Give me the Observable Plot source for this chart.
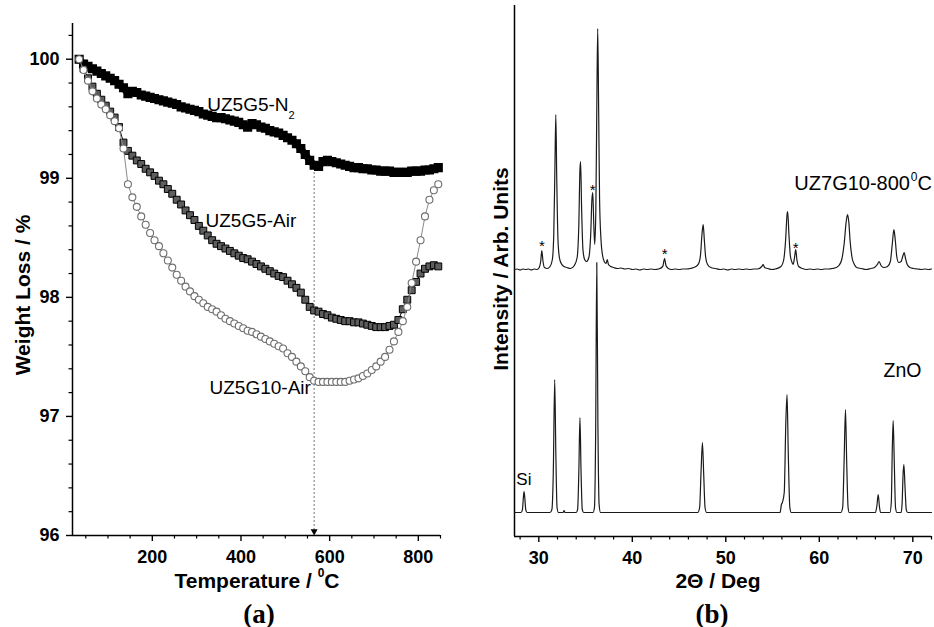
<!DOCTYPE html>
<html>
<head>
<meta charset="utf-8">
<script src="https://cdn.jsdelivr.net/npm/d3@7"></script>
<script src="https://cdn.jsdelivr.net/npm/@observablehq/plot@0.6"></script>
<style>
  body { margin: 0; background: white; }
  #wrap { position: relative; width: 934px; height: 627px; background: white; overflow: hidden; }
  .panel { position: absolute; top: 0; }
  .lab { position: absolute; font-family: 'Liberation Sans', Arial, sans-serif; font-weight: bold; font-size: 21px; color: black; white-space: nowrap; transform: translate(-50%, -50%); line-height: 1; }
  .rot { transform: translate(-50%, -50%) rotate(-90deg); }
  .lab sup { font-size: 12px; position: relative; top: -3px; vertical-align: top; }
  .cap { position: absolute; font-family: 'Liberation Serif', 'Times New Roman', serif; font-weight: bold; font-size: 27px; transform: translate(-50%, -50%); line-height: 1; }
</style>
</head>
<body>
<div id="wrap">
  <div id="pa" class="panel" style="left:0"></div>
  <div id="pb" class="panel" style="left:467px"></div>
  <div class="lab rot" style="left:22px; top:295px">Weight Loss / %</div>
  <div class="lab" style="left:257px; top:580px">Temperature / <sup>0</sup>C</div>
  <div class="cap" style="left:259px; top:614px">(a)</div>
  <div class="lab rot" style="left:500px; top:269px">Intensity / Arb. Units</div>
  <div class="lab" style="left:718px; top:580px">2&Theta; / Deg</div>
  <div class="cap" style="left:712px; top:614px">(b)</div>
</div>
<script>
// ---------- Panel (a): TGA ----------
const temps = [
  35, 45, 55, 65, 75, 85, 95, 105, 115, 125,
  135, 145, 155, 165, 175, 185, 195, 205, 215, 225,
  235, 245, 255, 265, 275, 285, 295, 305, 315, 325,
  335, 345, 355, 365, 375, 385, 395, 405, 415, 425,
  435, 445, 455, 465, 475, 485, 495, 505, 515, 525,
  535, 545, 555, 565, 575, 585, 595, 605, 615, 625,
  635, 645, 655, 665, 675, 685, 695, 705, 715, 725,
  735, 745, 755, 765, 775, 785, 795, 805, 815, 825,
  835, 845
];
const weightN2 = [
  100.00, 99.96, 99.94, 99.92, 99.90, 99.88, 99.86, 99.84, 99.82, 99.79,
  99.76, 99.71, 99.73, 99.72, 99.70, 99.69, 99.68, 99.67, 99.66, 99.65,
  99.64, 99.63, 99.62, 99.60, 99.59, 99.58, 99.57, 99.56, 99.54, 99.53,
  99.52, 99.51, 99.51, 99.50, 99.49, 99.48, 99.47, 99.45, 99.43, 99.46,
  99.45, 99.43, 99.42, 99.40, 99.39, 99.38, 99.36, 99.34, 99.32, 99.29,
  99.25, 99.20, 99.15, 99.11, 99.10, 99.14, 99.15, 99.14, 99.13, 99.12,
  99.11, 99.10, 99.09, 99.09, 99.08, 99.08, 99.07, 99.07, 99.06, 99.06,
  99.06, 99.05, 99.05, 99.05, 99.05, 99.06, 99.06, 99.06, 99.07, 99.07,
  99.08, 99.09
];
const weightG5Air = [
  100.00, 99.92, 99.84, 99.77, 99.71, 99.66, 99.61, 99.56, 99.51, 99.43,
  99.30, 99.23, 99.19, 99.15, 99.12, 99.08, 99.05, 99.02, 98.98, 98.95,
  98.91, 98.87, 98.82, 98.78, 98.73, 98.69, 98.65, 98.60, 98.56, 98.52,
  98.48, 98.45, 98.43, 98.41, 98.39, 98.37, 98.35, 98.33, 98.32, 98.30,
  98.28, 98.26, 98.24, 98.22, 98.20, 98.18, 98.17, 98.14, 98.11, 98.08,
  98.04, 97.98, 97.92, 97.89, 97.88, 97.86, 97.85, 97.83, 97.82, 97.81,
  97.80, 97.80, 97.79, 97.79, 97.78, 97.77, 97.76, 97.75, 97.75, 97.75,
  97.76, 97.77, 97.81, 97.90, 97.98, 98.06, 98.13, 98.20, 98.24, 98.26,
  98.27, 98.26
];
const weightG10Air = [
  100.00, 99.91, 99.82, 99.73, 99.67, 99.62, 99.58, 99.53, 99.48, 99.42,
  99.25, 98.95, 98.84, 98.76, 98.68, 98.61, 98.54, 98.48, 98.43, 98.37,
  98.31, 98.25, 98.19, 98.14, 98.09, 98.05, 98.01, 97.98, 97.95, 97.92,
  97.90, 97.88, 97.85, 97.82, 97.80, 97.78, 97.76, 97.74, 97.72, 97.71,
  97.69, 97.67, 97.65, 97.63, 97.61, 97.59, 97.57, 97.53, 97.50, 97.46,
  97.42, 97.38, 97.33, 97.30, 97.29, 97.29, 97.29, 97.29, 97.29, 97.29,
  97.29, 97.30, 97.31, 97.32, 97.34, 97.36, 97.39, 97.42, 97.46, 97.50,
  97.56, 97.63, 97.71, 97.80, 97.92, 98.12, 98.30, 98.48, 98.68, 98.82,
  98.90, 98.95
];
const tempMajorTicks = [200, 400, 600, 800];
const tempMinorTicks = [50, 100, 150, 250, 300, 350, 450, 500, 550, 650, 700, 750, 850];
const weightMajorTicks = [96, 97, 98, 99, 100];
const weightMinorTicks = [96.2, 96.4, 96.6, 96.8, 97.2, 97.4, 97.6, 97.8, 98.2, 98.4, 98.6, 98.8, 99.2, 99.4, 99.6, 99.8, 100.2];
const dropTemp = [565];          // dotted marker temperature
const dropFrom = [99.08];        // starts at the N2 curve
const seriesLabelsA = ["UZ5G5-N", "UZ5G5-Air", "UZ5G10-Air"];
const seriesLabelT = [324, 320, 329];
const seriesLabelW = [99.62, 98.64, 97.24];

const n2 = temps.map((t, i) => ({t, w: weightN2[i]}));
const g5 = temps.map((t, i) => ({t, w: weightG5Air[i]}));
const g10 = temps.map((t, i) => ({t, w: weightG10Air[i]}));
const labA = seriesLabelsA.map((s, i) => ({t: seriesLabelT[i], w: seriesLabelW[i], s}));

const FONT = "'Liberation Sans', Arial, sans-serif";

const plotA = Plot.plot({
  width: 467, height: 627,
  marginLeft: 72, marginRight: 27, marginTop: 23, marginBottom: 92,
  x: {domain: [20, 850], axis: null},
  y: {domain: [96, 100.3], axis: null},
  style: {fontFamily: FONT, fontSize: "18px", fontWeight: "bold", color: "black", background: "transparent", overflow: "visible"},
  marks: [
    Plot.axisY(weightMajorTicks, {anchor: "left", tickSize: 6, tickPadding: 7, tickFormat: d => d, label: null, fontSize: 18, fontWeight: "bold", strokeWidth: 1.4}),
    Plot.axisY(weightMinorTicks, {anchor: "left", tickSize: 3.5, tickFormat: () => "", label: null, strokeWidth: 1.2}),
    Plot.axisX(tempMajorTicks, {anchor: "bottom", tickSize: 6, tickPadding: 9, tickFormat: d => d, label: null, fontSize: 18, fontWeight: "bold", strokeWidth: 1.4}),
    Plot.axisX(tempMinorTicks, {anchor: "bottom", tickSize: 3.5, tickFormat: () => "", label: null, strokeWidth: 1.2}),
    Plot.ruleX([20], {stroke: "black", strokeWidth: 1.5}),
    Plot.ruleY([96], {stroke: "black", strokeWidth: 1.5}),
    Plot.ruleX(dropTemp, {x: d => d, y1: (d, i) => dropFrom[i], y2: 96, stroke: "#444", strokeWidth: 1, strokeDasharray: "1.5,2.5"}),
    Plot.dot(dropTemp, {x: d => d, y: () => 96.035, symbol: "triangle", rotate: 180, r: 2.6, fill: "black", stroke: "none"}),
    Plot.line(n2, {x: "t", y: "w", stroke: "black", strokeWidth: 7}),
    Plot.dot(n2, {x: "t", y: "w", symbol: "square", r: 4.3, fill: "black", stroke: "black"}),
    Plot.line(g5, {x: "t", y: "w", stroke: "black", strokeWidth: 1}),
    Plot.dot(g5, {x: "t", y: "w", symbol: "square", r: 3.9, fill: "#5e5e5e", stroke: "black", strokeWidth: 1}),
    Plot.line(g10, {x: "t", y: "w", stroke: "#8a8a8a", strokeWidth: 1}),
    Plot.dot(g10, {x: "t", y: "w", symbol: "circle", r: 3.5, fill: "white", stroke: "#6e6e6e", strokeWidth: 1.1}),
    Plot.text(labA, {x: "t", y: "w", text: "s", textAnchor: "start", fontSize: 19, fontWeight: "normal", fill: "black"}),
    Plot.text(["2"], {x: () => 507, y: () => 99.53, text: d => d, textAnchor: "start", fontSize: 11, fontWeight: "normal", fill: "black"})
  ]
});
document.getElementById("pa").appendChild(plotA);

// ---------- Panel (b): XRD ----------
const znoScan = [
  [27.4,0],[28.1,0],[28.25,3],[28.35,15],[28.42,21],[28.5,15],[28.6,3],[28.75,0],
  [31.2,0],[31.4,3],[31.55,40],[31.7,133],[31.82,60],[31.95,5],[32.1,0],
  [32.6,0],[32.7,2],[32.8,0],
  [34.0,0],[34.15,3],[34.28,40],[34.4,95],[34.52,40],[34.65,3],[34.8,0],
  [35.8,0],[35.95,5],[36.08,80],[36.2,250],[36.32,90],[36.45,8],[36.6,0],
  [47.0,0],[47.2,5],[47.35,40],[47.5,70],[47.63,40],[47.78,5],[47.95,0],
  [55.8,0],[55.95,8],[56.05,10],[56.25,20],[56.42,90],[56.55,118],[56.68,60],[56.85,5],[57.0,0],
  [62.3,0],[62.5,5],[62.65,50],[62.8,103],[62.93,50],[63.08,5],[63.2,0],
  [66.0,0],[66.15,6],[66.3,18],[66.43,6],[66.55,0],
  [67.55,0],[67.7,10],[67.8,60],[67.9,92],[68.02,50],[68.15,5],[68.3,0],
  [68.75,0],[68.85,8],[68.97,40],[69.05,48],[69.17,25],[69.3,3],[69.45,0],
  [72.0,0]
];
const uzScan = [
  [27.4,0],[27.7,0.5],[28.0,-0.5],[28.3,0.5],[28.6,0],[28.9,0.5],[29.2,-0.5],[29.5,0.5],[29.8,0],
  [30.05,2],[30.2,8],[30.32,19],[30.45,8],[30.6,2],[30.9,1],
  [31.2,3],[31.45,10],[31.6,35],[31.72,100],[31.82,155],[31.92,90],[32.05,30],[32.2,12],[32.4,6],[32.7,3],[33.0,2],[33.4,1],
  [33.8,4],[34.1,12],[34.28,45],[34.4,100],[34.47,108],[34.58,60],[34.72,20],[34.9,10],[35.1,8],
  [35.35,12],[35.55,35],[35.68,70],[35.77,77],[35.88,45],[35.98,25],
  [36.1,60],[36.22,180],[36.3,241],[36.4,160],[36.5,70],[36.65,30],[36.8,15],[37.0,8],[37.2,6],[37.32,10],[37.45,5],[37.7,3],[38.0,2],
  [38.4,1],[38.8,1.5],[39.2,0.5],[39.6,1],[40.0,0],[40.4,0.5],[40.8,-0.5],[41.2,0.5],[41.6,0],[42.0,0.5],[42.4,0],[42.8,0.5],
  [43.25,3],[43.45,11],[43.6,4],[43.85,1],[44.2,0],[44.6,0.5],[45.0,0],[45.4,0.5],[45.8,0.5],[46.2,1],
  [46.8,3],[47.1,6],[47.3,15],[47.45,35],[47.58,45],[47.7,30],[47.85,12],[48.05,5],[48.4,2],[48.9,1],
  [49.4,0],[49.8,0.5],[50.2,-0.5],[50.6,0.5],[51.0,0],[51.4,0.5],[51.8,0],[52.2,0.5],[52.6,0],[53.0,0.5],[53.4,0.5],
  [53.85,3],[54.0,5],[54.15,2],[54.5,1],[54.9,0],[55.3,0.5],
  [55.9,3],[56.2,10],[56.4,30],[56.55,55],[56.62,58],[56.75,35],[56.9,14],[57.05,8],[57.2,5],[57.35,12],[57.48,20],[57.6,10],[57.8,3],
  [58.2,1],[58.6,0],[59.0,0.5],[59.4,0],[59.8,0.5],[60.2,0],[60.6,0.5],[61.0,0.5],[61.4,1],[61.8,2],
  [62.1,4],[62.4,10],[62.65,25],[62.88,48],[63.02,55],[63.15,48],[63.3,28],[63.5,12],[63.75,5],[64.0,2],[64.5,1],
  [65.0,0],[65.5,1],[65.9,2],[66.2,5],[66.4,8],[66.6,4],[66.9,2],
  [67.3,3],[67.6,8],[67.8,25],[67.98,40],[68.12,30],[68.3,12],[68.5,7],[68.75,8],[68.95,14],[69.08,17],[69.2,12],[69.4,5],[69.7,2],
  [70.1,1],[70.5,0.5],[70.9,0],[71.3,0.5],[71.7,0],[72.0,0.5]
];
const angleMajorTicks = [30, 40, 50, 60, 70];
const angleMinorTicks = [28, 32, 34, 36, 38, 42, 44, 46, 48, 52, 54, 56, 58, 62, 64, 66, 68, 72];
const starAngles = [30.32, 35.77, 43.45, 57.48];
const starHeights = [294, 350, 286, 292];
const patternLabels = ["ZnO", "Si"];
const patternLabelA = [66.87, 27.6];
const patternLabelI = [166, 57];
const patternLabelSize = [19.5, 17];
const sampleLabel = ["UZ7G10-800"];   // followed by superscript 0 and "C"

const ZNO_BASE = 24, UZ_BASE = 267;
const zno = znoScan.map(([a, i]) => ({a, i: i + ZNO_BASE}));
const uz = uzScan.map(([a, i]) => ({a, i: i + UZ_BASE}));
const stars = starAngles.map((a, k) => ({a, i: starHeights[k]}));
const labB = patternLabels.map((s, k) => ({a: patternLabelA[k], i: patternLabelI[k], s, f: patternLabelSize[k]}));

const plotB = Plot.plot({
  width: 467, height: 627,
  marginLeft: 47, marginRight: 3, marginTop: 5, marginBottom: 91,
  x: {domain: [27.4, 72.0], axis: null},
  y: {domain: [0, 531], axis: null},
  style: {fontFamily: FONT, fontSize: "18px", fontWeight: "bold", color: "black", background: "transparent", overflow: "visible"},
  marks: [
    Plot.axisX(angleMajorTicks, {anchor: "bottom", tickSize: 6, tickPadding: 9, tickFormat: d => d, label: null, fontSize: 18, fontWeight: "bold", strokeWidth: 1.4}),
    Plot.axisX(angleMinorTicks, {anchor: "bottom", tickSize: 3.5, tickFormat: () => "", label: null, strokeWidth: 1.2}),
    Plot.ruleX([27.4], {stroke: "black", strokeWidth: 1.5}),
    Plot.ruleY([0], {stroke: "black", strokeWidth: 1.5}),
    Plot.line(zno, {x: "a", y: "i", curve: "monotone-x", stroke: "#1a1a1a", strokeWidth: 1.2}),
    Plot.line(uz, {x: "a", y: "i", curve: "monotone-x", stroke: "#1a1a1a", strokeWidth: 1.2}),
    Plot.text(stars, {x: "a", y: "i", text: () => "*", fontSize: 15, fontWeight: "normal", dy: 4, fill: "black"}),
    Plot.text(labB, {x: "a", y: "i", text: "s", fontSize: "f", textAnchor: "start", fontWeight: "normal", fill: "black"}),
    Plot.text(sampleLabel, {x: () => 72.05, y: () => 353, text: d => d, textAnchor: "end", dx: -22, fontSize: 20, fontWeight: "normal", fill: "black"}),
    Plot.text(["0"], {x: () => 72.05, y: () => 359, text: d => d, textAnchor: "end", dx: -14.5, fontSize: 12, fontWeight: "normal", fill: "black"}),
    Plot.text(["C"], {x: () => 72.05, y: () => 353, text: d => d, textAnchor: "end", fontSize: 20, fontWeight: "normal", fill: "black"})
  ]
});
document.getElementById("pb").appendChild(plotB);
</script>
</body>
</html>
